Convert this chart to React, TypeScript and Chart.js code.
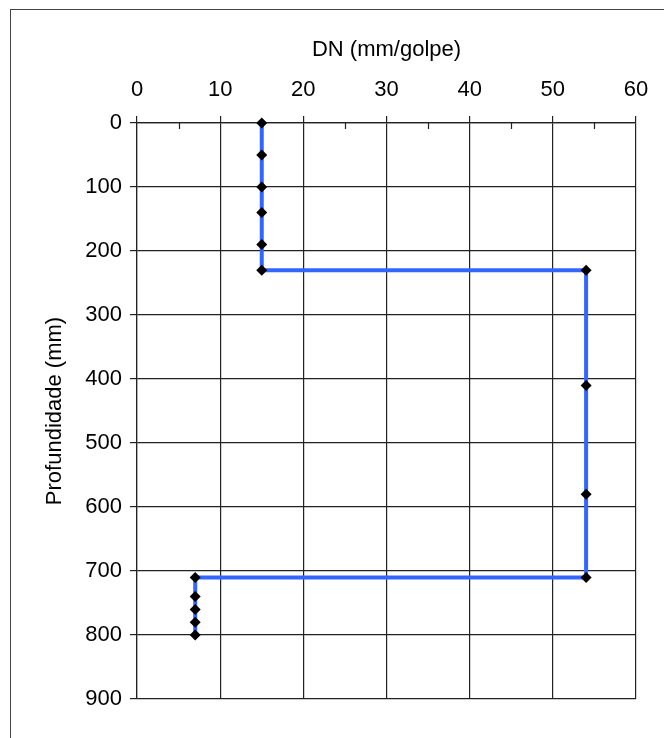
import React, { useEffect, useRef } from "react";
import { Chart, registerables } from "chart.js";

Chart.register(...registerables);

const dnValues = [15, 15, 15, 15, 15, 15, 54, 54, 54, 54, 7, 7, 7, 7, 7];
const depthValues = [0, 50, 100, 140, 190, 230, 230, 410, 580, 710, 710, 740, 760, 780, 800];
const minorTickValues = [5, 15, 25, 35, 45, 55];
const xTitle = "DN (mm/golpe)";
const yTitle = "Profundidade (mm)";

const FONT = "'Liberation Sans', Arial, sans-serif";

const minorTicksPlugin = {
  id: "minorTicks",
  beforeDatasetsDraw(chart: any) {
    const x = chart.scales.x;
    const ctx = chart.ctx;
    const top = chart.chartArea.top;
    ctx.save();
    ctx.strokeStyle = "#222";
    ctx.lineWidth = 1.2;
    minorTickValues.forEach((v) => {
      const px = Math.round(x.getPixelForValue(v)) + 0.5;
      ctx.beginPath();
      ctx.moveTo(px, top);
      ctx.lineTo(px, top + 6);
      ctx.stroke();
    });
    ctx.restore();
  },
};

export default function App() {
  const ref = useRef<HTMLCanvasElement | null>(null);
  useEffect(() => {
    if (!ref.current) return;
    const data = dnValues.map((v, i) => ({ x: v, y: depthValues[i] }));
    const chart = new Chart(ref.current, {
      type: "scatter",
      data: {
        datasets: [
          {
            data,
            showLine: true,
            borderColor: "rgb(51,102,255)",
            borderWidth: 4,
            pointStyle: "rectRot",
            pointRadius: 5.5,
            pointBackgroundColor: "#000",
            pointBorderColor: "#000",
            pointBorderWidth: 0,
            clip: false,
          } as any,
        ],
      },
      options: {
        responsive: false,
        animation: false,
        layout: { padding: { left: 0, top: 0, right: 28, bottom: 39 } },
        plugins: { legend: { display: false }, tooltip: { enabled: false } },
        scales: {
          x: {
            type: "linear",
            position: "top",
            min: 0,
            max: 60,
            ticks: { stepSize: 10, color: "#000", font: { family: FONT, size: 22 }, padding: 13 },
            grid: { color: "#222", lineWidth: 1.2, tickLength: 7, drawTicks: true },
            border: { color: "#222", width: 1.2 },
            title: {
              display: true,
              text: xTitle,
              color: "#000",
              font: { family: FONT, size: 22 },
              padding: { top: 37, bottom: 0 },
            },
            afterFit(scale: any) {
              scale.height = 123;
              scale.paddingLeft = 0;
              scale.paddingRight = 0;
            },
          },
          y: {
            type: "linear",
            reverse: true,
            min: 0,
            max: 900,
            ticks: { stepSize: 100, color: "#000", font: { family: FONT, size: 22 }, padding: 8 },
            grid: { color: "#222", lineWidth: 1.2, tickLength: 7, drawTicks: true },
            border: { color: "#222", width: 1.2 },
            title: {
              display: true,
              text: yTitle,
              color: "#000",
              font: { family: FONT, size: 22 },
              padding: { top: 42, bottom: 0 },
            },
            afterFit(scale: any) {
              scale.width = 137;
              scale.paddingTop = 0;
              scale.paddingBottom = 0;
            },
          },
        },
      } as any,
      plugins: [minorTicksPlugin],
    });
    return () => chart.destroy();
  }, []);

  return (
    <div>
      <div
        style={{
          position: "fixed",
          left: 10,
          top: 9,
          width: 800,
          height: 900,
          border: "1px solid #444",
          boxSizing: "border-box",
        }}
      />
      <canvas
        ref={ref}
        width={664}
        height={738}
        style={{ position: "fixed", left: 0, top: 0, width: 664, height: 738 }}
      />
    </div>
  );
}
